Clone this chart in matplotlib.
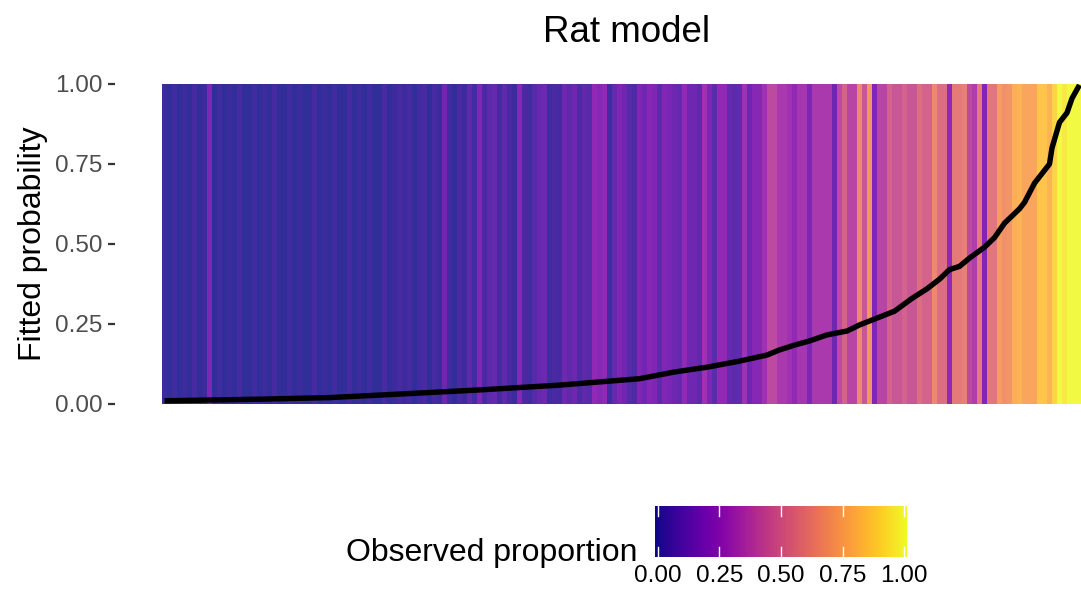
import numpy as np
import matplotlib
matplotlib.use("Agg")
import matplotlib.pyplot as plt
from matplotlib.colors import Normalize

plt.rcParams['font.family'] = ['Liberation Sans', 'DejaVu Sans']

# observed proportion per group, ordered by fitted probability (left -> right)
observed = [
    0.02, 0.0, 0.03, 0.0, 0.02, 0.0, 0.04, 0.0, 0.02, 0.2,
    0.0, 0.03, 0.0, 0.02, 0.0, 0.04, 0.0, 0.0, 0.03, 0.0,
    0.02, 0.0, 0.04, 0.0, 0.0, 0.03, 0.0, 0.02, 0.0, 0.0,
    0.04, 0.0, 0.02, 0.0, 0.03, 0.0, 0.0, 0.04, 0.0, 0.02,
    0.0, 0.03, 0.0, 0.0, 0.05, 0.0, 0.02, 0.04,
    0.02, 0.04, 0.0, 0.03, 0.05, 0.0, 0.04, 0.02, 0.15, 0.03,
    0.0, 0.05, 0.02, 0.1, 0.04, 0.2, 0.05, 0.1, 0.12, 0.04,
    0.1, 0.05, 0.02, 0.22, 0.05, 0.03, 0.08, 0.12,
    0.15, 0.03, 0.05, 0.04, 0.15, 0.1, 0.15, 0.06, 0.1, 0.08,
    0.25, 0.22, 0.25, 0.03, 0.12, 0.2, 0.15, 0.08, 0.06, 0.2,
    0.15, 0.22, 0.2, 0.1, 0.2, 0.18, 0.15, 0.12, 0.25, 0.15,
    0.15, 0.1, 0.3, 0.2, 0.1, 0.25, 0.25, 0.12, 0.1, 0.12,
    0.3, 0.15, 0.22, 0.22, 0.3, 0.4, 0.4, 0.33, 0.33, 0.3,
    0.25, 0.32, 0.32, 0.2, 0.33, 0.33, 0.33, 0.33, 0.15, 0.4,
    0.5, 0.38, 0.38, 0.65, 0.45, 0.7, 0.2, 0.38, 0.38, 0.5,
    0.45, 0.45, 0.5, 0.45, 0.45, 0.55, 0.5, 0.5, 0.65, 0.55,
    0.55, 0.25, 0.6, 0.6, 0.62, 0.4, 0.35, 0.6, 0.2, 0.58,
    0.58, 0.72, 0.68, 0.7, 0.78, 0.8, 0.75, 0.75, 0.75, 0.85,
    0.85, 0.8, 0.9, 1.0, 0.95, 1.0, 1.0, 1.0,
]

# fitted probability curve (group rank -> probability)
fit_rank = [0, 19, 33, 47, 63, 79, 87, 95, 102, 108.5, 115, 120.5, 123, 126,
            129, 132.5, 136.5, 139, 146, 149.5, 152.5, 155, 157, 159, 161,
            164, 166, 168, 171, 172, 174, 175.5, 177, 177.5, 179, 180.5,
            181.5, 183]
fit_prob = [0.01, 0.015, 0.02, 0.031, 0.044, 0.059, 0.069, 0.079, 0.10, 0.115,
            0.134, 0.153, 0.169, 0.184, 0.197, 0.216, 0.228, 0.247, 0.29, 0.33,
            0.36, 0.39, 0.42, 0.43, 0.456, 0.49, 0.52, 0.565, 0.61, 0.63,
            0.69, 0.72, 0.75, 0.80, 0.88, 0.91, 0.955, 0.997]

y_ticks = [0.0, 0.25, 0.5, 0.75, 1.0]

W, H = 1081, 596
fig = plt.figure(figsize=(W / 100, H / 100), dpi=100)

# main panel
ax = fig.add_axes([115 / W, 1 - 404 / H, (W - 115) / W, 320 / H])
cmap = plt.get_cmap("plasma")
norm = Normalize(0, 1)
n = len(observed)
ax.bar(np.arange(n), [1.0] * n, width=1.0, bottom=0, color=cmap(norm(observed)),
       alpha=0.85, linewidth=0)
ax.plot(fit_rank, fit_prob, color="black", lw=3.9, solid_capstyle="butt",
        solid_joinstyle="round")

ax.set_xlim(-0.5 - 47 / 5, n - 0.5 - 0.2)
ax.set_ylim(0, 1)
ax.set_xticks([])
ax.set_yticks(y_ticks)
ax.set_yticklabels([f"{v:.2f}" for v in y_ticks])
ax.tick_params(axis="y", length=5, width=1.6, color="#333333", pad=4,
               labelsize=17.5, labelcolor="#4D4D4D")
for s in ax.spines.values():
    s.set_visible(False)
ax.set_ylabel("Fitted probability", fontsize=23)
ax.yaxis.set_label_coords((48 - 115) / (W - 115), 0.5)

fig.text(627 / W, 1 - 32 / H, "Rat model", fontsize=26.5, ha="center", va="center")

# colour legend
cax = fig.add_axes([655 / W, 1 - 557 / H, 252 / W, 51 / H])
grad = np.linspace(0, 1, 300).reshape(1, -1)
cax.imshow(grad, cmap=cmap, aspect="auto", extent=[-0.012, 1.012, 0, 1])
cax.set_xlim(-0.012, 1.012)
cax.set_ylim(0, 1)
for t in y_ticks:
    cax.plot([t, t], [0, 0.2], color="white", lw=1)
    cax.plot([t, t], [0.8, 1], color="white", lw=1)
cax.set_yticks([])
cax.set_xticks(y_ticks)
cax.set_xticklabels([f"{v:.2f}" for v in y_ticks])
cax.tick_params(axis="x", length=0, pad=6, labelsize=17.5, labelcolor="black")
for s in cax.spines.values():
    s.set_visible(False)
fig.text(637 / W, 1 - 553 / H, "Observed proportion", fontsize=23,
         ha="right", va="center")

fig.savefig("out.png", dpi=100)
